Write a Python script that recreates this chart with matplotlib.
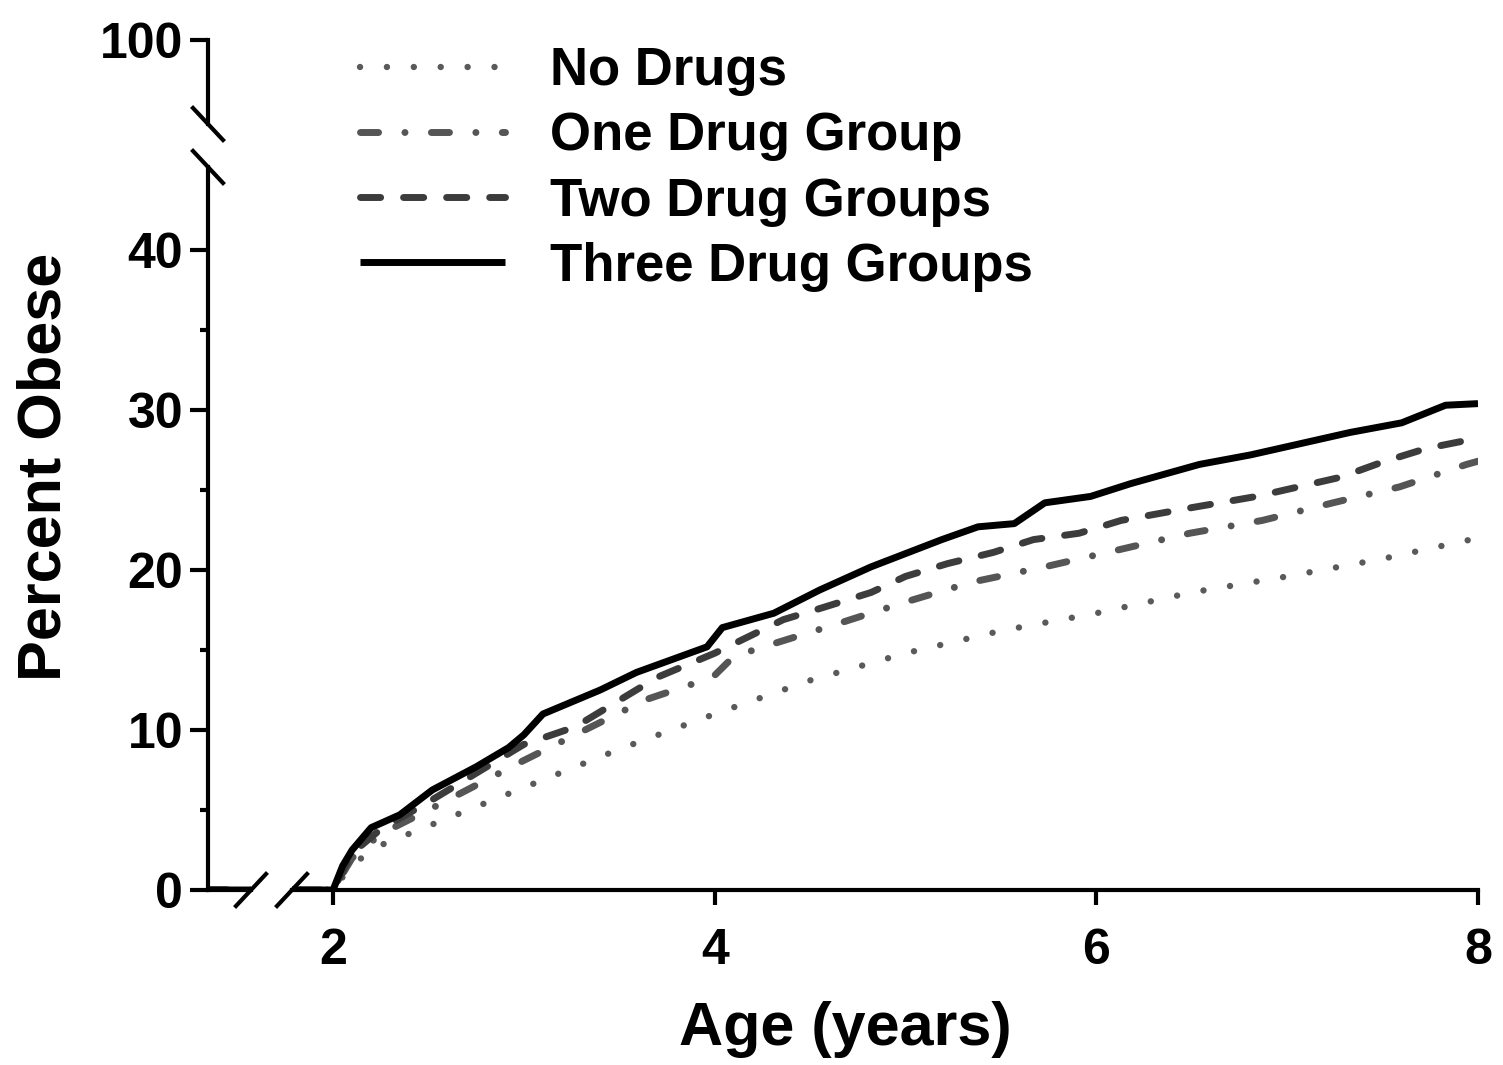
import matplotlib
matplotlib.use('Agg')
import matplotlib.pyplot as plt
from matplotlib.lines import Line2D

plt.rcParams['font.family'] = ['Liberation Sans', 'DejaVu Sans']
plt.rcParams['font.weight'] = 'bold'

# curve values (age in years, percent obese)
age_none = [0, 2.0, 2.1, 2.25, 2.5, 3.0, 3.5, 4.0, 4.5, 5.0, 5.5, 6.0, 6.5, 7.0, 7.5, 8.0]
pct_none = [0, 0, 1.6, 2.8, 4.0, 6.4, 8.8, 11.0, 13.1, 14.8, 16.2, 17.3, 18.6, 19.6, 20.7, 22.0]

age_one = [0, 2.0, 2.1, 2.25, 2.5, 3.0, 3.64, 3.99, 4.1, 4.31, 4.66, 5.0, 5.35, 5.73,
           6.13, 6.49, 6.87, 7.24, 7.59, 7.94, 8.0]
pct_one = [0, 0, 2.0, 3.5, 5.0, 8.1, 11.9, 13.3, 14.6, 15.4, 16.7, 18.0, 19.25, 20.2,
           21.3, 22.3, 23.1, 24.2, 25.2, 26.6, 26.8]

age_two = [0, 2.0, 2.1, 2.25, 2.5, 3.0, 3.27, 3.7, 4.0, 4.36, 4.58, 4.82, 5.0, 5.22,
           5.46, 5.67, 5.91, 6.13, 6.5, 6.84, 7.28, 7.5, 7.73, 7.94, 8.0]
pct_two = [0, 0, 2.3, 3.8, 5.5, 9.1, 10.2, 13.3, 14.8, 16.9, 17.7, 18.6, 19.6, 20.4,
           21.1, 21.9, 22.3, 23.1, 23.9, 24.6, 25.8, 26.75, 27.6, 28.1, 28.4]

age_three = [0, 2.0, 2.05, 2.1, 2.2, 2.35, 2.52, 2.75, 2.92, 3.0, 3.1, 3.4, 3.59, 3.96,
             4.04, 4.31, 4.55, 4.82, 5.19, 5.38, 5.57, 5.73, 5.97, 6.18, 6.54, 6.81,
             7.07, 7.33, 7.6, 7.83, 8.0]
pct_three = [0, 0, 1.5, 2.5, 3.9, 4.7, 6.25, 7.7, 8.9, 9.7, 11.0, 12.5, 13.6, 15.2,
             16.4, 17.3, 18.75, 20.2, 21.9, 22.7, 22.9, 24.2, 24.6, 25.4, 26.6, 27.2,
             27.9, 28.6, 29.2, 30.3, 30.4]

labels = ['No Drugs', 'One Drug Group', 'Two Drug Groups', 'Three Drug Groups']

W, H = 1503, 1065
fig = plt.figure(figsize=(W / 100, H / 100), dpi=100)


def fx(px):
    return px / W


def fy(py):
    return 1 - py / H


ax_main = fig.add_axes([fx(292), fy(890), fx(1478) - fx(292), fy(167) - fy(890)])
ax_left = fig.add_axes([fx(208), fy(890), fx(251) - fx(208), fy(167) - fy(890)])
ax_top = fig.add_axes([fx(208), fy(124), fx(251) - fx(208), fy(40) - fy(124)])

styles = [
    dict(color='#5a5a5a', lw=4.6, linestyle=(0, (0.01, 4.2)), dash_capstyle='round'),
    dict(color='#555555', lw=5, linestyle=(0, (2.6, 3.8, 0.01, 3.8)), dash_capstyle='round'),
    dict(color='#3c3c3c', lw=5, linestyle=(0, (2.9, 3.3)), dash_capstyle='round'),
    dict(color='black', lw=5, linestyle='-', solid_capstyle='butt'),
]
series = [(age_none, pct_none), (age_one, pct_one), (age_two, pct_two), (age_three, pct_three)]

handles = []
for (x, y), st, lab in zip(series, styles, labels):
    h, = ax_main.plot(x, y, label=lab, **st)
    ax_left.plot(x, y, **st)
    handles.append(h)

ymax = 45.19
ax_main.set_xlim(1.785, 8)
ax_main.set_ylim(0, ymax)
ax_left.set_xlim(0, 0.225)
ax_left.set_ylim(0, ymax)
ax_top.set_ylim(96, 100)
ax_top.set_xlim(0, 1)

for ax in (ax_main, ax_left, ax_top):
    ax.patch.set_visible(False)
    for s in ax.spines.values():
        s.set_linewidth(3)
    ax.spines['top'].set_visible(False)
    ax.spines['right'].set_visible(False)

ax_main.spines['left'].set_visible(False)
ax_main.set_yticks([])
ax_main.set_xticks([2, 4, 6, 8])
ax_main.tick_params(axis='x', length=11, width=3, labelsize=36, pad=16)

ax_left.set_xticks([])
ax_left.set_yticks([0, 10, 20, 30, 40])
ax_left.set_yticks([5, 15, 25, 35], minor=True)
ax_left.tick_params(axis='y', which='major', length=13, width=3, labelsize=36, pad=5)
ax_left.tick_params(axis='y', which='minor', length=6, width=3)

ax_top.spines['bottom'].set_visible(False)
ax_top.set_xticks([])
ax_top.set_yticks([100])
ax_top.tick_params(axis='y', length=13, width=3, labelsize=36, pad=5)

# break marks
def slash(cx, cy, sx, sy):
    fig.add_artist(Line2D([cx - sx, cx + sx], [cy - sy, cy + sy], color='black', lw=3,
                          transform=fig.transFigure, clip_on=False))

dx, dy = fx(15), 16 / H
slash(ax_top.get_position().x0, ax_top.get_position().y0, dx, -dy)
slash(ax_left.get_position().x0, ax_left.get_position().y1, dx, -dy)
slash(ax_left.get_position().x1, ax_left.get_position().y0, dx, dy)
slash(ax_main.get_position().x0, ax_main.get_position().y0, dx, dy)

fig.legend(handles, labels, loc='upper left', bbox_to_anchor=(fx(360), fy(46)),
           frameon=False, prop={'size': 38, 'weight': 'bold'}, handlelength=2.75,
           handletextpad=0.85, labelspacing=0.29, borderpad=0, borderaxespad=0)

fig.text(fx(45), fy(467), 'Percent Obese', rotation=90, ha='center', va='center',
         fontsize=44, fontweight='bold')
fig.text(fx(845), fy(1030), 'Age (years)', ha='center', va='center',
         fontsize=44, fontweight='bold')

fig.savefig('out.png', dpi=100)
